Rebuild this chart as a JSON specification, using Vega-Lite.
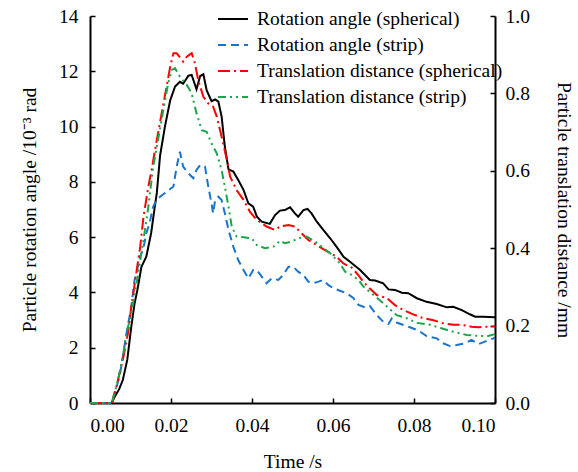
{
"$schema": "https://vega.github.io/schema/vega-lite/v6.json",
"width": 405, "height": 387,
"autosize": {"type": "none"},
"padding": {"left": 90, "top": 16, "right": 83, "bottom": 69},
"background": "white",
"config": {
 "font": "Liberation Serif",
 "view": {"stroke": null},
 "axis": {"zindex": 1, "domainColor": "black", "domainWidth": 2, "tickColor": "black", "tickWidth": 1.5, "labelFont": "Liberation Serif", "labelFontSize": 19.5, "labelColor": "black", "titleFont": "Liberation Serif", "titleFontSize": 19.5, "titleFontWeight": "normal", "titleColor": "black", "grid": false}
},
"data": {"values": [
{"series":"Rotation angle (spherical)","t":0,"v":0},{"series":"Rotation angle (spherical)","t":0.0054,"v":0},{"series":"Rotation angle (spherical)","t":0.0061,"v":0.23},{"series":"Rotation angle (spherical)","t":0.0072,"v":0.5},{"series":"Rotation angle (spherical)","t":0.0081,"v":0.83},{"series":"Rotation angle (spherical)","t":0.0092,"v":1.56},{"series":"Rotation angle (spherical)","t":0.0102,"v":2.76},{"series":"Rotation angle (spherical)","t":0.011,"v":3.6},{"series":"Rotation angle (spherical)","t":0.0117,"v":4.09},{"series":"Rotation angle (spherical)","t":0.0127,"v":4.93},{"series":"Rotation angle (spherical)","t":0.0139,"v":5.29},{"series":"Rotation angle (spherical)","t":0.0151,"v":6.15},{"series":"Rotation angle (spherical)","t":0.016,"v":7.1},{"series":"Rotation angle (spherical)","t":0.0165,"v":7.6},{"series":"Rotation angle (spherical)","t":0.0173,"v":8.95},{"series":"Rotation angle (spherical)","t":0.0185,"v":10.0},{"series":"Rotation angle (spherical)","t":0.0198,"v":10.95},{"series":"Rotation angle (spherical)","t":0.021,"v":11.45},{"series":"Rotation angle (spherical)","t":0.0222,"v":11.62},{"series":"Rotation angle (spherical)","t":0.023,"v":11.55},{"series":"Rotation angle (spherical)","t":0.0243,"v":11.84},{"series":"Rotation angle (spherical)","t":0.0251,"v":11.87},{"series":"Rotation angle (spherical)","t":0.0263,"v":11.35},{"series":"Rotation angle (spherical)","t":0.0272,"v":11.83},{"series":"Rotation angle (spherical)","t":0.028,"v":11.89},{"series":"Rotation angle (spherical)","t":0.0288,"v":11.32},{"series":"Rotation angle (spherical)","t":0.03,"v":10.92},{"series":"Rotation angle (spherical)","t":0.0309,"v":10.98},{"series":"Rotation angle (spherical)","t":0.0317,"v":10.9},{"series":"Rotation angle (spherical)","t":0.0325,"v":10.36},{"series":"Rotation angle (spherical)","t":0.0333,"v":9.27},{"series":"Rotation angle (spherical)","t":0.0342,"v":8.45},{"series":"Rotation angle (spherical)","t":0.0354,"v":8.37},{"series":"Rotation angle (spherical)","t":0.0366,"v":8.07},{"series":"Rotation angle (spherical)","t":0.0379,"v":7.71},{"series":"Rotation angle (spherical)","t":0.0391,"v":7.22},{"series":"Rotation angle (spherical)","t":0.0403,"v":7.1},{"series":"Rotation angle (spherical)","t":0.0412,"v":6.74},{"series":"Rotation angle (spherical)","t":0.0424,"v":6.56},{"series":"Rotation angle (spherical)","t":0.0444,"v":6.48},{"series":"Rotation angle (spherical)","t":0.0457,"v":6.8},{"series":"Rotation angle (spherical)","t":0.0469,"v":6.96},{"series":"Rotation angle (spherical)","t":0.0481,"v":6.98},{"series":"Rotation angle (spherical)","t":0.0494,"v":7.08},{"series":"Rotation angle (spherical)","t":0.0506,"v":6.86},{"series":"Rotation angle (spherical)","t":0.0514,"v":6.74},{"series":"Rotation angle (spherical)","t":0.0527,"v":6.98},{"series":"Rotation angle (spherical)","t":0.0537,"v":7.02},{"series":"Rotation angle (spherical)","t":0.0547,"v":6.86},{"series":"Rotation angle (spherical)","t":0.056,"v":6.56},{"series":"Rotation angle (spherical)","t":0.0576,"v":6.26},{"series":"Rotation angle (spherical)","t":0.0593,"v":5.96},{"series":"Rotation angle (spherical)","t":0.0609,"v":5.65},{"series":"Rotation angle (spherical)","t":0.0626,"v":5.29},{"series":"Rotation angle (spherical)","t":0.0642,"v":5.11},{"series":"Rotation angle (spherical)","t":0.0667,"v":4.81},{"series":"Rotation angle (spherical)","t":0.0691,"v":4.45},{"series":"Rotation angle (spherical)","t":0.0704,"v":4.43},{"series":"Rotation angle (spherical)","t":0.0724,"v":4.33},{"series":"Rotation angle (spherical)","t":0.0737,"v":4.11},{"series":"Rotation angle (spherical)","t":0.0753,"v":4.09},{"series":"Rotation angle (spherical)","t":0.077,"v":3.99},{"series":"Rotation angle (spherical)","t":0.0786,"v":3.97},{"series":"Rotation angle (spherical)","t":0.0807,"v":3.79},{"series":"Rotation angle (spherical)","t":0.0831,"v":3.66},{"series":"Rotation angle (spherical)","t":0.0856,"v":3.58},{"series":"Rotation angle (spherical)","t":0.0881,"v":3.46},{"series":"Rotation angle (spherical)","t":0.0897,"v":3.48},{"series":"Rotation angle (spherical)","t":0.0918,"v":3.36},{"series":"Rotation angle (spherical)","t":0.0938,"v":3.21},{"series":"Rotation angle (spherical)","t":0.0951,"v":3.12},{"series":"Rotation angle (spherical)","t":0.0971,"v":3.12},{"series":"Rotation angle (spherical)","t":0.1,"v":3.1},
{"series":"Rotation angle (strip)","t":0,"v":0},{"series":"Rotation angle (strip)","t":0.0054,"v":0},{"series":"Rotation angle (strip)","t":0.0057,"v":0.17},{"series":"Rotation angle (strip)","t":0.0073,"v":0.95},{"series":"Rotation angle (strip)","t":0.0081,"v":1.67},{"series":"Rotation angle (strip)","t":0.009,"v":2.52},{"series":"Rotation angle (strip)","t":0.0102,"v":3.48},{"series":"Rotation angle (strip)","t":0.011,"v":4.45},{"series":"Rotation angle (strip)","t":0.0114,"v":4.63},{"series":"Rotation angle (strip)","t":0.0123,"v":5.29},{"series":"Rotation angle (strip)","t":0.0131,"v":5.53},{"series":"Rotation angle (strip)","t":0.0139,"v":6.14},{"series":"Rotation angle (strip)","t":0.0147,"v":6.5},{"series":"Rotation angle (strip)","t":0.0156,"v":7.1},{"series":"Rotation angle (strip)","t":0.0164,"v":7.34},{"series":"Rotation angle (strip)","t":0.0173,"v":7.46},{"series":"Rotation angle (strip)","t":0.0189,"v":7.64},{"series":"Rotation angle (strip)","t":0.0206,"v":7.83},{"series":"Rotation angle (strip)","t":0.0214,"v":8.55},{"series":"Rotation angle (strip)","t":0.0222,"v":9.09},{"series":"Rotation angle (strip)","t":0.023,"v":8.55},{"series":"Rotation angle (strip)","t":0.0243,"v":8.31},{"series":"Rotation angle (strip)","t":0.0255,"v":8.13},{"series":"Rotation angle (strip)","t":0.0263,"v":8.43},{"series":"Rotation angle (strip)","t":0.0272,"v":8.61},{"series":"Rotation angle (strip)","t":0.0284,"v":8.55},{"series":"Rotation angle (strip)","t":0.0292,"v":7.83},{"series":"Rotation angle (strip)","t":0.03,"v":7.22},{"series":"Rotation angle (strip)","t":0.0304,"v":6.86},{"series":"Rotation angle (strip)","t":0.0309,"v":7.34},{"series":"Rotation angle (strip)","t":0.0317,"v":7.46},{"series":"Rotation angle (strip)","t":0.0325,"v":7.34},{"series":"Rotation angle (strip)","t":0.0333,"v":6.86},{"series":"Rotation angle (strip)","t":0.0342,"v":6.26},{"series":"Rotation angle (strip)","t":0.0354,"v":5.65},{"series":"Rotation angle (strip)","t":0.0366,"v":5.17},{"series":"Rotation angle (strip)","t":0.0379,"v":4.81},{"series":"Rotation angle (strip)","t":0.0391,"v":4.51},{"series":"Rotation angle (strip)","t":0.0403,"v":4.81},{"series":"Rotation angle (strip)","t":0.0412,"v":4.81},{"series":"Rotation angle (strip)","t":0.0424,"v":4.57},{"series":"Rotation angle (strip)","t":0.0436,"v":4.33},{"series":"Rotation angle (strip)","t":0.0449,"v":4.51},{"series":"Rotation angle (strip)","t":0.0465,"v":4.45},{"series":"Rotation angle (strip)","t":0.0477,"v":4.63},{"series":"Rotation angle (strip)","t":0.049,"v":4.93},{"series":"Rotation angle (strip)","t":0.0502,"v":4.93},{"series":"Rotation angle (strip)","t":0.0514,"v":4.75},{"series":"Rotation angle (strip)","t":0.0527,"v":4.63},{"series":"Rotation angle (strip)","t":0.0539,"v":4.39},{"series":"Rotation angle (strip)","t":0.0551,"v":4.33},{"series":"Rotation angle (strip)","t":0.0564,"v":4.39},{"series":"Rotation angle (strip)","t":0.0576,"v":4.45},{"series":"Rotation angle (strip)","t":0.0588,"v":4.27},{"series":"Rotation angle (strip)","t":0.0601,"v":4.15},{"series":"Rotation angle (strip)","t":0.0617,"v":4.06},{"series":"Rotation angle (strip)","t":0.0634,"v":3.97},{"series":"Rotation angle (strip)","t":0.065,"v":3.8},{"series":"Rotation angle (strip)","t":0.0663,"v":3.55},{"series":"Rotation angle (strip)","t":0.0679,"v":3.46},{"series":"Rotation angle (strip)","t":0.0691,"v":3.51},{"series":"Rotation angle (strip)","t":0.0708,"v":3.18},{"series":"Rotation angle (strip)","t":0.0724,"v":2.94},{"series":"Rotation angle (strip)","t":0.0737,"v":2.86},{"series":"Rotation angle (strip)","t":0.0745,"v":3.06},{"series":"Rotation angle (strip)","t":0.0757,"v":2.91},{"series":"Rotation angle (strip)","t":0.0774,"v":2.82},{"series":"Rotation angle (strip)","t":0.079,"v":2.74},{"series":"Rotation angle (strip)","t":0.0811,"v":2.62},{"series":"Rotation angle (strip)","t":0.0831,"v":2.42},{"series":"Rotation angle (strip)","t":0.0856,"v":2.34},{"series":"Rotation angle (strip)","t":0.0872,"v":2.16},{"series":"Rotation angle (strip)","t":0.0889,"v":2.06},{"series":"Rotation angle (strip)","t":0.0905,"v":2.1},{"series":"Rotation angle (strip)","t":0.0926,"v":2.16},{"series":"Rotation angle (strip)","t":0.0942,"v":2.28},{"series":"Rotation angle (strip)","t":0.0959,"v":2.13},{"series":"Rotation angle (strip)","t":0.0975,"v":2.22},{"series":"Rotation angle (strip)","t":0.1,"v":2.36},
{"series":"Translation distance (spherical)","t":0,"v":0},{"series":"Translation distance (spherical)","t":0.0054,"v":0},{"series":"Translation distance (spherical)","t":0.0065,"v":0.042},{"series":"Translation distance (spherical)","t":0.0081,"v":0.111},{"series":"Translation distance (spherical)","t":0.0094,"v":0.181},{"series":"Translation distance (spherical)","t":0.0102,"v":0.249},{"series":"Translation distance (spherical)","t":0.0124,"v":0.404},{"series":"Translation distance (spherical)","t":0.0132,"v":0.481},{"series":"Translation distance (spherical)","t":0.0144,"v":0.559},{"series":"Translation distance (spherical)","t":0.0152,"v":0.602},{"series":"Translation distance (spherical)","t":0.0165,"v":0.68},{"series":"Translation distance (spherical)","t":0.0177,"v":0.749},{"series":"Translation distance (spherical)","t":0.0189,"v":0.817},{"series":"Translation distance (spherical)","t":0.0198,"v":0.869},{"series":"Translation distance (spherical)","t":0.0206,"v":0.904},{"series":"Translation distance (spherical)","t":0.0214,"v":0.904},{"series":"Translation distance (spherical)","t":0.023,"v":0.882},{"series":"Translation distance (spherical)","t":0.0239,"v":0.895},{"series":"Translation distance (spherical)","t":0.0251,"v":0.904},{"series":"Translation distance (spherical)","t":0.0259,"v":0.878},{"series":"Translation distance (spherical)","t":0.0267,"v":0.835},{"series":"Translation distance (spherical)","t":0.028,"v":0.791},{"series":"Translation distance (spherical)","t":0.0292,"v":0.774},{"series":"Translation distance (spherical)","t":0.0304,"v":0.766},{"series":"Translation distance (spherical)","t":0.0313,"v":0.74},{"series":"Translation distance (spherical)","t":0.0325,"v":0.688},{"series":"Translation distance (spherical)","t":0.0338,"v":0.628},{"series":"Translation distance (spherical)","t":0.0346,"v":0.585},{"series":"Translation distance (spherical)","t":0.0362,"v":0.55},{"series":"Translation distance (spherical)","t":0.0379,"v":0.525},{"series":"Translation distance (spherical)","t":0.0395,"v":0.494},{"series":"Translation distance (spherical)","t":0.0412,"v":0.473},{"series":"Translation distance (spherical)","t":0.0436,"v":0.456},{"series":"Translation distance (spherical)","t":0.0457,"v":0.447},{"series":"Translation distance (spherical)","t":0.0469,"v":0.456},{"series":"Translation distance (spherical)","t":0.049,"v":0.46},{"series":"Translation distance (spherical)","t":0.0506,"v":0.456},{"series":"Translation distance (spherical)","t":0.0523,"v":0.438},{"series":"Translation distance (spherical)","t":0.0539,"v":0.421},{"series":"Translation distance (spherical)","t":0.056,"v":0.408},{"series":"Translation distance (spherical)","t":0.058,"v":0.395},{"series":"Translation distance (spherical)","t":0.0609,"v":0.378},{"series":"Translation distance (spherical)","t":0.0625,"v":0.361},{"series":"Translation distance (spherical)","t":0.0646,"v":0.35},{"series":"Translation distance (spherical)","t":0.0663,"v":0.33},{"series":"Translation distance (spherical)","t":0.0675,"v":0.313},{"series":"Translation distance (spherical)","t":0.0691,"v":0.296},{"series":"Translation distance (spherical)","t":0.0708,"v":0.279},{"series":"Translation distance (spherical)","t":0.0733,"v":0.271},{"series":"Translation distance (spherical)","t":0.0753,"v":0.253},{"series":"Translation distance (spherical)","t":0.0774,"v":0.24},{"series":"Translation distance (spherical)","t":0.0798,"v":0.229},{"series":"Translation distance (spherical)","t":0.0823,"v":0.219},{"series":"Translation distance (spherical)","t":0.0848,"v":0.214},{"series":"Translation distance (spherical)","t":0.0872,"v":0.206},{"series":"Translation distance (spherical)","t":0.0897,"v":0.202},{"series":"Translation distance (spherical)","t":0.0918,"v":0.202},{"series":"Translation distance (spherical)","t":0.0942,"v":0.197},{"series":"Translation distance (spherical)","t":0.0959,"v":0.196},{"series":"Translation distance (spherical)","t":0.0983,"v":0.197},{"series":"Translation distance (spherical)","t":0.1,"v":0.198},
{"series":"Translation distance (strip)","t":0,"v":0},{"series":"Translation distance (strip)","t":0.0054,"v":0},{"series":"Translation distance (strip)","t":0.0069,"v":0.059},{"series":"Translation distance (strip)","t":0.0081,"v":0.12},{"series":"Translation distance (strip)","t":0.009,"v":0.18},{"series":"Translation distance (strip)","t":0.0102,"v":0.232},{"series":"Translation distance (strip)","t":0.0111,"v":0.283},{"series":"Translation distance (strip)","t":0.0119,"v":0.335},{"series":"Translation distance (strip)","t":0.0132,"v":0.421},{"series":"Translation distance (strip)","t":0.0144,"v":0.507},{"series":"Translation distance (strip)","t":0.0156,"v":0.611},{"series":"Translation distance (strip)","t":0.0165,"v":0.662},{"series":"Translation distance (strip)","t":0.0181,"v":0.757},{"series":"Translation distance (strip)","t":0.0193,"v":0.826},{"series":"Translation distance (strip)","t":0.0202,"v":0.86},{"series":"Translation distance (strip)","t":0.021,"v":0.865},{"series":"Translation distance (strip)","t":0.0222,"v":0.843},{"series":"Translation distance (strip)","t":0.0239,"v":0.822},{"series":"Translation distance (strip)","t":0.0251,"v":0.8},{"series":"Translation distance (strip)","t":0.0263,"v":0.749},{"series":"Translation distance (strip)","t":0.0276,"v":0.705},{"series":"Translation distance (strip)","t":0.0288,"v":0.701},{"series":"Translation distance (strip)","t":0.03,"v":0.671},{"series":"Translation distance (strip)","t":0.0313,"v":0.645},{"series":"Translation distance (strip)","t":0.0325,"v":0.602},{"series":"Translation distance (strip)","t":0.0333,"v":0.559},{"series":"Translation distance (strip)","t":0.0342,"v":0.507},{"series":"Translation distance (strip)","t":0.035,"v":0.456},{"series":"Translation distance (strip)","t":0.0362,"v":0.43},{"series":"Translation distance (strip)","t":0.0379,"v":0.428},{"series":"Translation distance (strip)","t":0.0399,"v":0.426},{"series":"Translation distance (strip)","t":0.0412,"v":0.408},{"series":"Translation distance (strip)","t":0.0432,"v":0.4},{"series":"Translation distance (strip)","t":0.0453,"v":0.404},{"series":"Translation distance (strip)","t":0.0469,"v":0.419},{"series":"Translation distance (strip)","t":0.0481,"v":0.413},{"series":"Translation distance (strip)","t":0.0498,"v":0.417},{"series":"Translation distance (strip)","t":0.0514,"v":0.426},{"series":"Translation distance (strip)","t":0.0535,"v":0.43},{"series":"Translation distance (strip)","t":0.0556,"v":0.417},{"series":"Translation distance (strip)","t":0.0572,"v":0.404},{"series":"Translation distance (strip)","t":0.0593,"v":0.387},{"series":"Translation distance (strip)","t":0.0617,"v":0.361},{"series":"Translation distance (strip)","t":0.063,"v":0.339},{"series":"Translation distance (strip)","t":0.0646,"v":0.331},{"series":"Translation distance (strip)","t":0.0663,"v":0.318},{"series":"Translation distance (strip)","t":0.0675,"v":0.301},{"series":"Translation distance (strip)","t":0.07,"v":0.279},{"series":"Translation distance (strip)","t":0.0724,"v":0.258},{"series":"Translation distance (strip)","t":0.0757,"v":0.227},{"series":"Translation distance (strip)","t":0.0782,"v":0.219},{"series":"Translation distance (strip)","t":0.0807,"v":0.207},{"series":"Translation distance (strip)","t":0.084,"v":0.202},{"series":"Translation distance (strip)","t":0.0868,"v":0.193},{"series":"Translation distance (strip)","t":0.0897,"v":0.184},{"series":"Translation distance (strip)","t":0.093,"v":0.176},{"series":"Translation distance (strip)","t":0.0963,"v":0.173},{"series":"Translation distance (strip)","t":0.0983,"v":0.173},{"series":"Translation distance (strip)","t":0.1,"v":0.178}
]},
"encoding": {
 "x": {"field": "t", "type": "quantitative", "scale": {"domain": [0, 0.1], "nice": false}, "axis": {"values": [0, 0.02, 0.04, 0.06, 0.08, 0.1], "format": ".2f", "title": "Time /s", "tickSize": -5, "labelPadding": 18, "titlePadding": 18}},
 "color": {"field": "series", "type": "nominal", "scale": {"domain": ["Rotation angle (spherical)", "Rotation angle (strip)", "Translation distance (spherical)", "Translation distance (strip)"], "range": ["#000000", "#1874cd", "#ff0000", "#1aa64a"]}, "legend": {"orient": "none", "legendX": 127, "legendY": -13, "title": null, "symbolType": "stroke", "symbolSize": 900, "symbolStrokeWidth": 2, "labelFont": "Liberation Serif", "labelFontSize": 19.5, "labelColor": "black", "labelOffset": 8, "labelLimit": 400, "rowPadding": 0,
   "encode": {"symbols": {"update": {"strokeDash": {"signal": "datum.value == 'Rotation angle (strip)' ? [8,5] : datum.value == 'Translation distance (spherical)' ? [12,4,2,4] : datum.value == 'Translation distance (strip)' ? [8,4,2,4,2,4] : [400,1]"}}}}}}
},
"layer": [
 {"encoding": {"y": {"field": "v", "type": "quantitative", "scale": {"domain": [0, 14], "nice": false}, "axis": {"orient": "left", "tickSize": -5, "labelPadding": 17, "values": [0, 2, 4, 6, 8, 10, 12, 14], "title": "Particle rotation angle /10⁻³ rad", "titlePadding": 19}}},
  "layer": [
   {"transform": [{"filter": "datum.series == 'Rotation angle (spherical)'"}], "mark": {"type": "line", "strokeWidth": 2}},
   {"transform": [{"filter": "datum.series == 'Rotation angle (strip)'"}], "mark": {"type": "line", "strokeWidth": 2, "strokeDash": [8, 5]}}
  ]},
 {"encoding": {"y": {"field": "v", "type": "quantitative", "scale": {"domain": [0, 1], "nice": false}, "axis": {"orient": "right", "tickSize": -5, "labelPadding": 15, "values": [0, 0.2, 0.4, 0.6, 0.8, 1.0], "format": ".1f", "title": "Particle translation distance /mm", "titlePadding": 24}}},
  "layer": [
   {"transform": [{"filter": "datum.series == 'Translation distance (spherical)'"}], "mark": {"type": "line", "strokeWidth": 2, "strokeDash": [12, 4, 2, 4]}},
   {"transform": [{"filter": "datum.series == 'Translation distance (strip)'"}], "mark": {"type": "line", "strokeWidth": 2, "strokeDash": [8, 4, 2, 4, 2, 4]}}
  ]}
],
"resolve": {"scale": {"y": "independent"}}
}
